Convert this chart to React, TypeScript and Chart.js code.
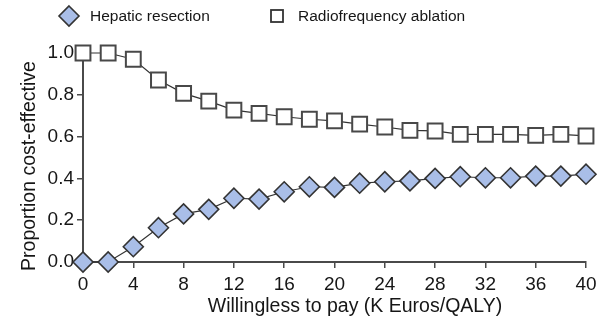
import React, { useEffect, useRef } from 'react';
import { Chart, registerables } from 'chart.js';

Chart.register(...registerables);

const wtp = [0, 2, 4, 6, 8, 10, 12, 14, 16, 18, 20, 22, 24, 26, 28, 30, 32, 34, 36, 38, 40];
const hepaticResection = [0.0, 0.0, 0.073, 0.164, 0.23, 0.252, 0.305, 0.301, 0.336, 0.36, 0.357, 0.377, 0.384, 0.388, 0.4, 0.408, 0.403, 0.403, 0.411, 0.411, 0.42];
const radiofrequencyAblation = [1.0, 1.0, 0.97, 0.871, 0.807, 0.77, 0.727, 0.711, 0.695, 0.683, 0.675, 0.66, 0.646, 0.63, 0.627, 0.611, 0.611, 0.611, 0.606, 0.611, 0.603];
const xTickValues = [0, 4, 8, 12, 16, 20, 24, 28, 32, 36, 40];
const yTickValues = [0, 0.2, 0.4, 0.6, 0.8, 1.0];
const seriesNames = ['Hepatic resection', 'Radiofrequency ablation'];
const xTitle = 'Willingless to pay (K Euros/QALY)';
const yTitle = 'Proportion cost-effective';

const FONT = "'Liberation Sans', Arial, sans-serif";
const TEXT = '#161616';
const AXIS = '#4a4a4a';
const BLUE = '#a9bee8';

const decorPlugin = {
  id: 'decor',
  afterDraw(chart: any) {
    const ctx = chart.ctx as CanvasRenderingContext2D;
    ctx.save();
    // legend
    ctx.font = `15.5px ${FONT}`;
    ctx.textBaseline = 'middle';
    ctx.textAlign = 'left';
    const ly = 16;
    // diamond
    ctx.beginPath();
    ctx.moveTo(69, ly - 10);
    ctx.lineTo(79, ly);
    ctx.lineTo(69, ly + 10);
    ctx.lineTo(59, ly);
    ctx.closePath();
    ctx.fillStyle = BLUE;
    ctx.fill();
    ctx.lineWidth = 1.6;
    ctx.strokeStyle = '#333';
    ctx.stroke();
    ctx.fillStyle = TEXT;
    ctx.fillText(seriesNames[0], 90, ly + 1);
    // square
    ctx.fillStyle = '#fff';
    ctx.fillRect(271, ly - 6, 12, 12);
    ctx.lineWidth = 1.8;
    ctx.strokeStyle = '#333';
    ctx.strokeRect(271, ly - 6, 12, 12);
    ctx.fillStyle = TEXT;
    ctx.fillText(seriesNames[1], 298, ly + 1);

    // axis titles
    ctx.font = `19.5px ${FONT}`;
    ctx.textAlign = 'center';
    ctx.textBaseline = 'middle';
    ctx.fillText(xTitle, 355, 307);
    ctx.translate(30, 166);
    ctx.rotate(-Math.PI / 2);
    ctx.fillText(yTitle, 0, 0);
    ctx.restore();
  },
};

export default function App() {
  const ref = useRef<HTMLCanvasElement | null>(null);

  useEffect(() => {
    if (!ref.current) return;
    const chart = new Chart(ref.current, {
      type: 'line',
      data: {
        datasets: [
          {
            label: seriesNames[0],
            data: wtp.map((x, i) => ({ x, y: hepaticResection[i] })),
            borderColor: '#333',
            borderWidth: 1.2,
            pointStyle: 'rectRot',
            pointRadius: 10,
            pointBackgroundColor: BLUE,
            pointBorderColor: '#333',
            pointBorderWidth: 1.6,
            clip: false as any,
          },
          {
            label: seriesNames[1],
            data: wtp.map((x, i) => ({ x, y: radiofrequencyAblation[i] })),
            borderColor: '#333',
            borderWidth: 1.2,
            pointStyle: 'rect',
            pointRadius: 10.5,
            pointBackgroundColor: '#fff',
            pointBorderColor: '#484848',
            pointBorderWidth: 2,
            clip: false as any,
          },
        ],
      },
      options: {
        animation: false,
        responsive: true,
        maintainAspectRatio: false,
        events: [],
        layout: { padding: { left: 0, right: 23, top: 53, bottom: 0 } },
        plugins: {
          legend: { display: false },
          tooltip: { enabled: false },
        },
        scales: {
          x: {
            type: 'linear',
            min: 0,
            max: 40,
            afterBuildTicks: (s: any) => {
              s.ticks = xTickValues.map((v) => ({ value: v }));
            },
            afterFit: (s: any) => {
              s.height = 60;
            },
            ticks: {
              font: { family: FONT, size: 19 },
              color: TEXT,
              padding: 5,
              maxRotation: 0,
              autoSkip: false,
            },
            grid: {
              drawOnChartArea: false,
              drawTicks: true,
              tickLength: 6,
              color: AXIS,
              lineWidth: 1.5,
            },
            border: { display: true, color: AXIS, width: 2 },
          },
          y: {
            min: 0,
            max: 1,
            afterBuildTicks: (s: any) => {
              s.ticks = yTickValues.map((v) => ({ value: v }));
            },
            afterFit: (s: any) => {
              s.width = 83;
            },
            ticks: {
              font: { family: FONT, size: 19 },
              color: TEXT,
              padding: 3,
              autoSkip: false,
              callback: (v: any) => Number(v).toFixed(1),
            },
            grid: {
              drawOnChartArea: false,
              drawTicks: true,
              tickLength: 6,
              color: AXIS,
              lineWidth: 1.5,
            },
            border: { display: true, color: AXIS, width: 2 },
          },
        },
      },
      plugins: [decorPlugin],
    });
    return () => chart.destroy();
  }, []);

  return (
    <div style={{ position: 'fixed', left: 0, top: 0, width: 609, height: 322 }}>
      <canvas ref={ref} />
    </div>
  );
}
